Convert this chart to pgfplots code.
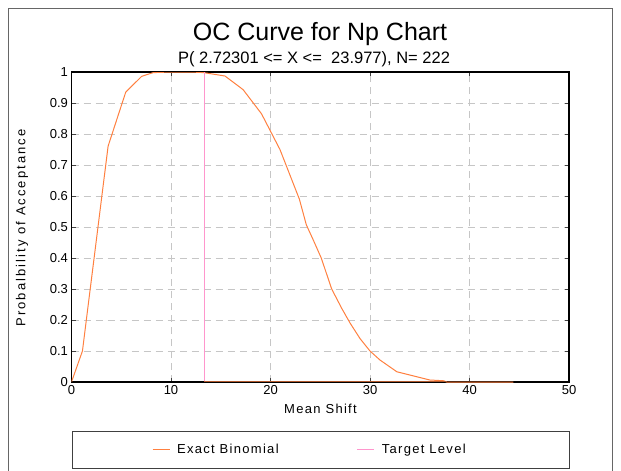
\documentclass[border=0pt]{standalone}
\usepackage{fontspec}
\setmainfont{Liberation Sans}
\newfontfamily\widefont[LetterSpace=16]{Liberation Sans}
\newfontfamily\midfont[LetterSpace=10]{Liberation Sans}
\usepackage{pgfplots}
\pgfplotsset{compat=1.18}
\definecolor{ocorange}{RGB}{255,128,64}
\definecolor{tlpink}{RGB}{255,150,205}
\begin{document}
\begin{tikzpicture}[x=1pt,y=1pt]
\path[use as bounding box] (0pt,0pt) rectangle (621pt,-471pt);
\draw[black!60, line width=1pt] (8.5pt,-471pt) -- (8.5pt,-8.5pt) -- (612pt,-8.5pt) -- (612pt,-471pt);
\node[font=\fontsize{25}{29}\selectfont] at (320pt,-34pt) {OC Curve for Np Chart};
\node[font=\fontsize{16.5}{19}\selectfont] at (314pt,-59pt) {P( 2.72301 <= X <=\ \ 23.977), N= 222};
\begin{axis}[
  at={(71.5pt,-382pt)}, anchor=south west, scale only axis,
  width=497.5pt, height=310pt,
  xmin=0, xmax=50, ymin=0, ymax=1,
  xtick={0,10,20,30,40,50}, xticklabels={0,10,20,30,40,50},
  ytick={0,0.1,0.2,0.3,0.4,0.5,0.6,0.7,0.8,0.9,1},
  yticklabels={0,0.1,0.2,0.3,0.4,0.5,0.6,0.7,0.8,0.9,1},
  axis line style={line width=1.6pt, black},
  tick align=inside, major tick length=4pt,
  tick style={black!75, line width=1pt},
  grid=major,
  major grid style={gray!45, line width=1pt, dash pattern=on 7pt off 5pt},
  tick label style={font=\fontsize{13}{15}\selectfont},
  legend columns=2,
  legend style={at={(0,-0.158)}, anchor=north west, draw=black!75, line width=0.8pt,
     inner xsep=80pt, inner ysep=11pt, font=\midfont\fontsize{13}{15}\selectfont,
     /tikz/every odd column/.append style={column sep=5pt},
     /tikz/every even column/.append style={column sep=76pt}},
  legend image code/.code={\draw[#1, line width=1.2pt] (0pt,0pt) -- (17pt,0pt);},
]
\addplot[ocorange, line width=1pt] coordinates {
(0,0) (1.1,0.10) (3.68,0.761) (5.45,0.935) (7.05,0.986) (8.2,0.998)
(10,1.0) (12,1.0) (13.3,0.998) (15.43,0.987) (17.25,0.943) (19.1,0.865)
(20.95,0.75) (22.9,0.59) (23.6,0.507) (24.3,0.458) (25.1,0.40) (26.15,0.30)
(27.15,0.238) (28.0,0.19) (29.0,0.14) (30.0,0.10) (31.0,0.071) (32.7,0.033)
(33.7,0.025) (36.0,0.0065) (37.4,0.004) (37.7,0.0) (44.4,0.0)
};
\addlegendentry{Exact Binomial}
\addplot[tlpink, line width=1.2pt] coordinates {(13.35,0) (13.35,1)};
\addlegendentry{Target Level\rule{22pt}{0pt}}
\addplot[ocorange!70!black, line width=1pt, forget plot] coordinates {(13.35,0.002) (37.7,0.002)};
\end{axis}
\node[font=\midfont\fontsize{13}{15}\selectfont] at (320.5pt,-409pt) {Mean Shift};
\node[font=\widefont\fontsize{13}{15}\selectfont, rotate=90] at (22pt,-228pt) {Probalbility of Acceptance};
\end{tikzpicture}
\end{document}
